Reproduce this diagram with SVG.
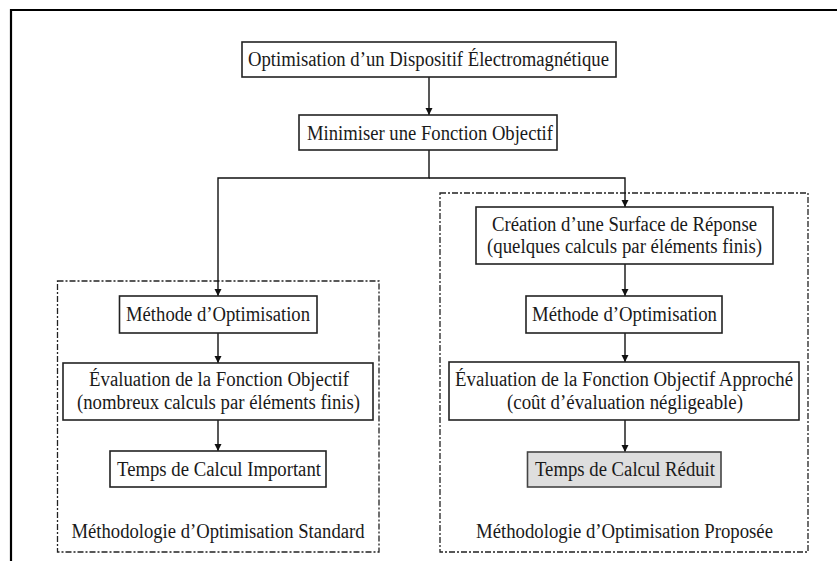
<svg xmlns="http://www.w3.org/2000/svg" width="837" height="561" viewBox="0 0 837 561">
<defs>
<marker id="arr" markerUnits="userSpaceOnUse" markerWidth="8" markerHeight="8" refX="7" refY="3.5" orient="auto">
<path d="M0,0 L7,3.5 L0,7 z" fill="#111"/>
</marker>
<style>
.box{fill:#fff;stroke:#222;stroke-width:1.6}
.grey{fill:#dedede;stroke:#444;stroke-width:1.6}
.grp{fill:none;stroke:#222;stroke-width:1.3;stroke-dasharray:6 2 2 2}
.t{font-family:"Liberation Serif","Times New Roman",serif;font-size:20.5px;fill:#1a1a1a;text-anchor:middle}
.c{fill:none;stroke:#111;stroke-width:1.4}
</style>
</defs>
<rect width="837" height="561" fill="#fff"/>
<path d="M11,561 V10 H837" fill="none" stroke="#000" stroke-width="2.2"/>

<g id="grp-standard">
<rect class="grp" x="57.5" y="281" width="321.5" height="271"/>
<text class="t" x="218" y="538" textLength="293" lengthAdjust="spacingAndGlyphs">Méthodologie d’Optimisation Standard</text>
</g>
<g id="grp-proposee">
<rect class="grp" x="440" y="193" width="368" height="359"/>
<text class="t" x="624.5" y="538" textLength="297" lengthAdjust="spacingAndGlyphs">Méthodologie d’Optimisation Proposée</text>
</g>

<g id="connectors">
<line class="c" x1="429" y1="77" x2="429" y2="115" marker-end="url(#arr)"/>
<path class="c" d="M429,150 V178 H218 V296" marker-end="url(#arr)"/>
<path class="c" d="M429,178 H625 V207" marker-end="url(#arr)"/>
<line class="c" x1="218" y1="333" x2="218" y2="363" marker-end="url(#arr)"/>
<line class="c" x1="218" y1="420" x2="218" y2="451" marker-end="url(#arr)"/>
<line class="c" x1="625" y1="264" x2="625" y2="296" marker-end="url(#arr)"/>
<line class="c" x1="625" y1="333" x2="625" y2="362" marker-end="url(#arr)"/>
<line class="c" x1="625" y1="420" x2="625" y2="452" marker-end="url(#arr)"/>
</g>

<g id="n-top">
<rect class="box" x="242" y="42" width="374" height="35"/>
<text class="t" x="428.5" y="66" textLength="361" lengthAdjust="spacingAndGlyphs">Optimisation d’un Dispositif Électromagnétique</text>
</g>
<g id="n-min">
<rect class="box" x="299" y="115" width="258" height="35"/>
<text class="t" x="430" y="139.5" textLength="246" lengthAdjust="spacingAndGlyphs">Minimiser une Fonction Objectif</text>
</g>

<g id="n-l-methode">
<rect class="box" x="119.5" y="296" width="197.5" height="37"/>
<text class="t" x="218" y="320.5" textLength="184" lengthAdjust="spacingAndGlyphs">Méthode d’Optimisation</text>
</g>
<g id="n-l-eval">
<rect class="box" x="63" y="363" width="310" height="57"/>
<text class="t" x="219" y="385.5" textLength="260" lengthAdjust="spacingAndGlyphs">Évaluation de la Fonction Objectif</text>
<text class="t" x="218.5" y="408.5" textLength="283" lengthAdjust="spacingAndGlyphs">(nombreux calculs par éléments finis)</text>
</g>
<g id="n-l-temps">
<rect class="box" x="110" y="451" width="216" height="36"/>
<text class="t" x="219" y="476" textLength="204" lengthAdjust="spacingAndGlyphs">Temps de Calcul Important</text>
</g>

<g id="n-r-creation">
<rect class="box" x="476" y="207" width="297" height="57"/>
<text class="t" x="624.5" y="230.5" textLength="265" lengthAdjust="spacingAndGlyphs">Création d’une Surface de Réponse</text>
<text class="t" x="624.5" y="253" textLength="275" lengthAdjust="spacingAndGlyphs">(quelques calculs par éléments finis)</text>
</g>
<g id="n-r-methode">
<rect class="box" x="526" y="296" width="196" height="37"/>
<text class="t" x="624.5" y="320.5" textLength="185" lengthAdjust="spacingAndGlyphs">Méthode d’Optimisation</text>
</g>
<g id="n-r-eval">
<rect class="box" x="449" y="362" width="350" height="58"/>
<text class="t" x="624" y="385.5" textLength="338" lengthAdjust="spacingAndGlyphs">Évaluation de la Fonction Objectif Approché</text>
<text class="t" x="625" y="408.5" textLength="236" lengthAdjust="spacingAndGlyphs">(coût d’évaluation négligeable)</text>
</g>
<g id="n-r-temps">
<rect class="grey" x="527.5" y="452" width="193.5" height="35"/>
<text class="t" x="625" y="476" textLength="180" lengthAdjust="spacingAndGlyphs">Temps de Calcul Réduit</text>
</g>
</svg>
